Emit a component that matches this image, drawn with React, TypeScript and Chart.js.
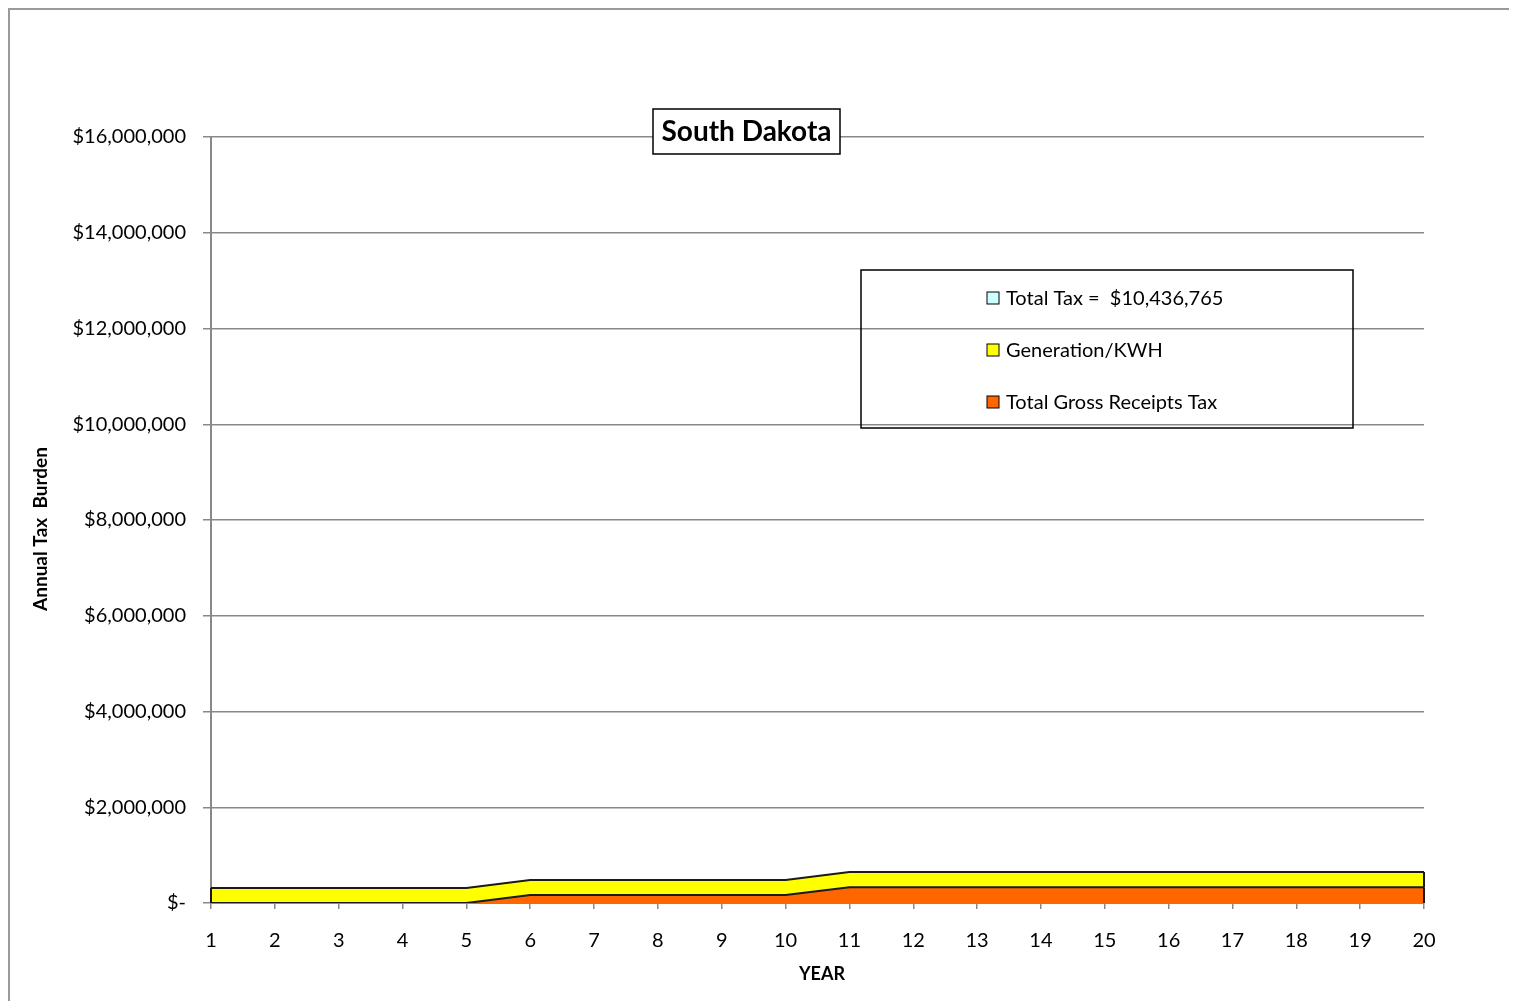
import React, { useEffect, useRef } from "react";
import { Chart, registerables } from "chart.js";

Chart.register(...registerables);

// Project years on the category axis
const years: string[] = [
  "1", "2", "3", "4", "5", "6", "7", "8", "9", "10",
  "11", "12", "13", "14", "15", "16", "17", "18", "19", "20",
];

// Annual gross receipts tax (bottom band)
const grossReceiptsTax: number[] = [
  0, 0, 0, 0, 0,
  165000, 165000, 165000, 165000, 165000,
  330000, 330000, 330000, 330000, 330000,
  330000, 330000, 330000, 330000, 330000,
];

// Annual generation / kWh tax (stacked on top)
const generationKwh: number[] = [
  315000, 315000, 315000, 315000, 315000,
  315000, 315000, 315000, 315000, 315000,
  315000, 315000, 315000, 315000, 315000,
  315000, 315000, 315000, 315000, 315000,
];

const totalTaxLabel = "Total Tax =  $10,436,765";
const chartTitle = "South Dakota";
const xAxisTitle = "YEAR";
const yAxisTitle = "Annual Tax  Burden";

const FONT = "Lato, 'Open Sans', sans-serif";

// Boxed title, outlined legend, axis titles, page frame and closing edges of the stacked areas
const decorations = {
  id: "decorations",
  afterDatasetsDraw(chart: any) {
    const { ctx } = chart;
    const yScale = chart.scales.y;
    const zeroY = yScale.getPixelForValue(0);
    ctx.save();
    ctx.strokeStyle = "#1a1a1a";
    ctx.lineWidth = 2;
    const metas = chart.getSortedVisibleDatasetMetas();
    metas.forEach((meta: any, i: number) => {
      const pts = meta.data;
      if (!pts.length) return;
      [0, pts.length - 1].forEach((idx) => {
        const below = i > 0 ? metas[i - 1].data[idx].y : zeroY;
        ctx.beginPath();
        ctx.moveTo(pts[idx].x, pts[idx].y);
        ctx.lineTo(pts[idx].x, below);
        ctx.stroke();
      });
    });
    ctx.restore();
  },
  afterDraw(chart: any) {
    const { ctx } = chart;
    ctx.save();

    // outer frame (left and top edges)
    ctx.strokeStyle = "#9a9a9a";
    ctx.lineWidth = 2;
    ctx.beginPath();
    ctx.moveTo(1, chart.height);
    ctx.lineTo(1, 1);
    ctx.lineTo(chart.width, 1);
    ctx.stroke();

    // axis titles
    ctx.fillStyle = "#000000";
    ctx.textAlign = "center";
    ctx.textBaseline = "middle";
    ctx.font = `bold 18px ${FONT}`;
    ctx.fillText(xAxisTitle, 814, 966);
    ctx.save();
    ctx.translate(33, 521);
    ctx.rotate(-Math.PI / 2);
    ctx.font = `bold 19px ${FONT}`;
    ctx.fillText(yAxisTitle, 0, 0);
    ctx.restore();

    // title box
    ctx.fillStyle = "#ffffff";
    ctx.fillRect(645, 101, 187, 45);
    ctx.strokeStyle = "#000000";
    ctx.lineWidth = 1.5;
    ctx.strokeRect(645, 101, 187, 45);
    ctx.fillStyle = "#000000";
    ctx.font = `bold 28px ${FONT}`;
    ctx.textAlign = "center";
    ctx.textBaseline = "middle";
    ctx.fillText(chartTitle, 738.5, 124);

    // legend box
    ctx.strokeStyle = "#000000";
    ctx.lineWidth = 1.5;
    ctx.strokeRect(853, 262, 492, 158);
    const items = [
      { text: totalTaxLabel, color: "#ccffff", y: 290 },
      { text: chart.data.datasets[1].label, color: chart.data.datasets[1].backgroundColor, y: 342 },
      { text: chart.data.datasets[0].label, color: chart.data.datasets[0].backgroundColor, y: 394 },
    ];
    ctx.font = `20px ${FONT}`;
    ctx.textAlign = "left";
    items.forEach((it) => {
      ctx.fillStyle = it.color;
      ctx.fillRect(979, it.y - 6, 12, 12);
      ctx.strokeStyle = "#000000";
      ctx.lineWidth = 1;
      ctx.strokeRect(979, it.y - 6, 12, 12);
      ctx.fillStyle = "#000000";
      ctx.fillText(it.text, 998, it.y + 1);
    });
    ctx.restore();
  },
};

export default function App() {
  const canvasRef = useRef<HTMLCanvasElement | null>(null);

  useEffect(() => {
    document.body.style.overflow = "hidden";
    const canvas = canvasRef.current;
    if (!canvas) return;
    const chart = new Chart(canvas, {
      type: "line",
      data: {
        labels: years,
        datasets: [
          {
            label: "Total Gross Receipts Tax",
            data: grossReceiptsTax,
            backgroundColor: "#ff6600",
            borderColor: "#1a1a1a",
            borderWidth: 2,
            fill: "origin",
            pointRadius: 0,
            tension: 0,
          },
          {
            label: "Generation/KWH",
            data: generationKwh,
            backgroundColor: "#ffff00",
            borderColor: "#1a1a1a",
            borderWidth: 2,
            fill: "-1",
            pointRadius: 0,
            tension: 0,
          },
        ],
      },
      options: {
        responsive: false,
        animation: false,
        devicePixelRatio: 1,
        layout: { padding: { top: 129, right: 93, left: 0, bottom: 0 } },
        plugins: {
          legend: { display: false },
          tooltip: { enabled: false },
          title: { display: false },
        },
        scales: {
          x: {
            offset: false,
            afterFit: (s: any) => { s.height = 98; },
            grid: {
              drawOnChartArea: false,
              drawTicks: true,
              tickLength: 6,
              color: "#888888",
              lineWidth: 1.5,
            },
            border: { color: "#888888", width: 2 },
            ticks: {
              color: "#000000",
              font: { family: FONT, size: 20 },
              padding: 20,
              maxRotation: 0,
              autoSkip: false,
            },
          },
          y: {
            stacked: true,
            min: 0,
            max: 16000000,
            afterFit: (s: any) => { s.width = 203; },
            grid: {
              color: "#888888",
              lineWidth: 1.5,
              tickLength: 8,
            },
            border: { color: "#888888", width: 2 },
            ticks: {
              stepSize: 2000000,
              color: "#000000",
              font: { family: FONT, size: 20 },
              padding: 17,
              callback: (v: any) =>
                Number(v) === 0 ? "$-" : "$" + Number(v).toLocaleString("en-US"),
            },
          },
        },
      },
      plugins: [decorations],
    });
    return () => chart.destroy();
  }, []);

  return (
    <div style={{ width: 1509, height: 993 }}>
      <canvas ref={canvasRef} width={1509} height={993} style={{ display: "block" }} />
    </div>
  );
}
